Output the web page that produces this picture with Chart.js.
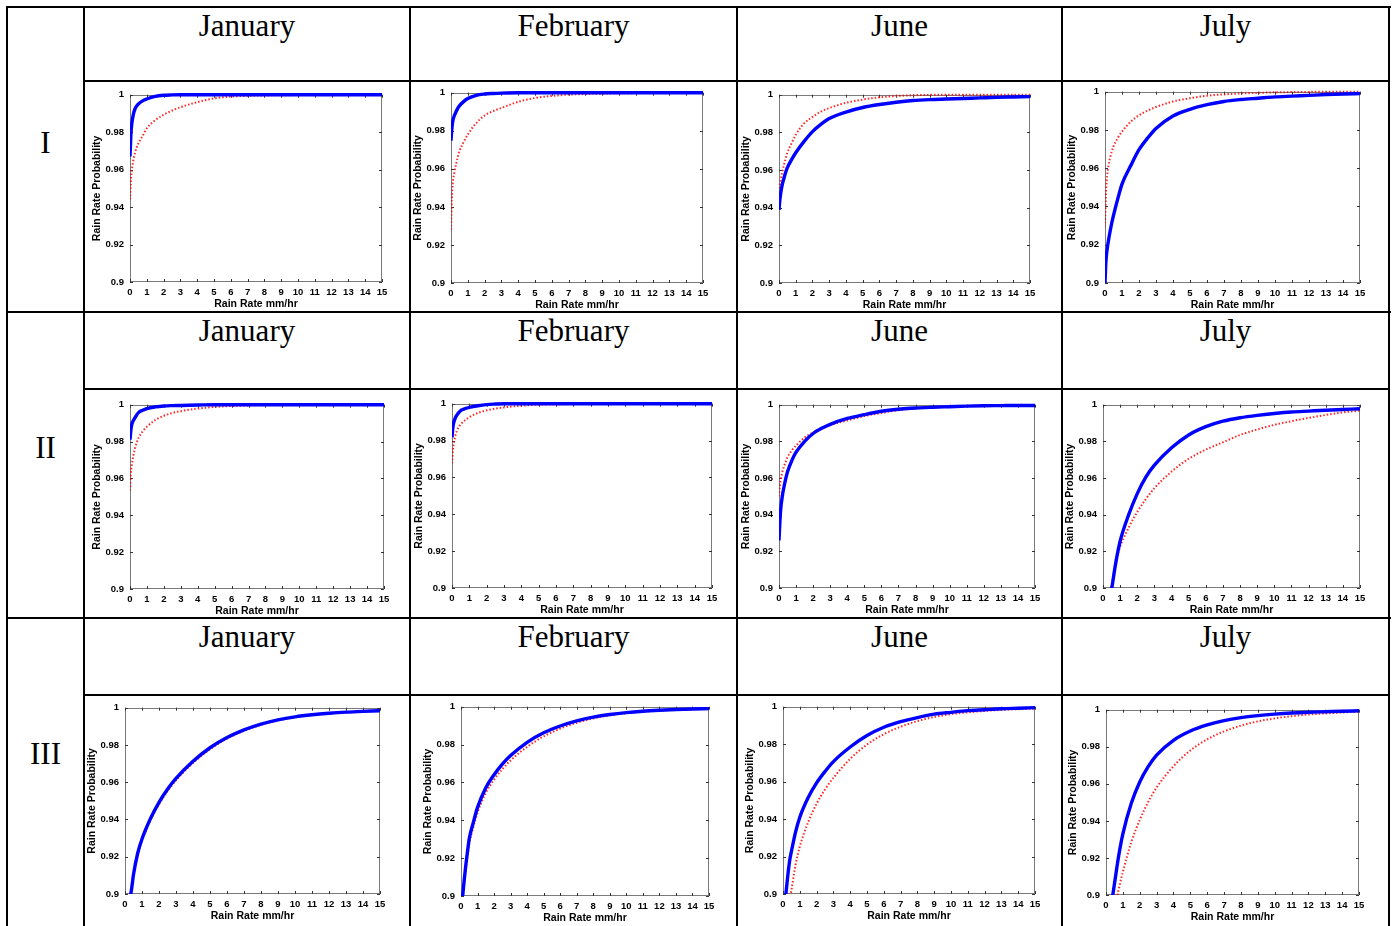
<!DOCTYPE html>
<html><head><meta charset="utf-8">
<script src="https://cdn.jsdelivr.net/npm/chart.js@4.4.1/dist/chart.umd.min.js"></script>
<style>
html,body{margin:0;padding:0;background:#fff;width:1398px;height:926px;overflow:hidden;}
.ln{position:absolute;background:#000;z-index:5;}
.hd{position:absolute;font-family:"Liberation Serif","Times New Roman",serif;font-size:31px;color:#000;text-align:center;line-height:31px;white-space:nowrap;}
.cv{position:absolute;z-index:2;}
</style></head><body>
<script>
// ---- data ----
const rainRate = [0,0.05,0.1,0.2,0.3,0.4,0.5,0.75,1,1.5,2,2.5,3,4,5,6,7,8,9,10,11,12,13,14,15];
const xTicks = [0,1,2,3,4,5,6,7,8,9,10,11,12,13,14,15];
const yTicks = [0.9,0.92,0.94,0.96,0.98,1];
const months = ['January','February','June','July'];
const regions = ['I','II','III'];

const I_Jan_blue = [0.967,0.978,0.984,0.9895,0.9925,0.994,0.995,0.9967,0.9977,0.9991,0.9997,0.9999,1,1,1,1,1,1,1,1,1,1,1,1,1];
const I_Jan_red = [0.944,0.953,0.959,0.965,0.969,0.972,0.974,0.978,0.982,0.9864,0.9893,0.9915,0.9933,0.996,0.998,0.999,0.9994,0.9996,0.9997,0.9998,0.9999,1,1,1,1];
const I_Feb_blue = [0.9748,0.981,0.9848,0.988,0.990,0.9918,0.9931,0.9953,0.9969,0.9986,0.9993,0.9996,0.9998,1,1,1,1,1,1,1,1,1,1,1,1];
const I_Feb_red = [0.928,0.944,0.952,0.958,0.9625,0.966,0.9693,0.974,0.978,0.984,0.988,0.9903,0.992,0.9952,0.9972,0.9983,0.999,0.9993,0.9995,0.9997,0.9998,0.9999,1,1,1];
const I_Jun_blue = [0.9388,0.944,0.9475,0.9525,0.9558,0.9588,0.9613,0.9655,0.9692,0.9752,0.9804,0.9842,0.9873,0.9908,0.9932,0.9948,0.996,0.9969,0.9974,0.9977,0.998,0.9983,0.9986,0.9988,0.999];
const I_Jun_red = [0.9483,0.9515,0.9544,0.959,0.9628,0.9662,0.9692,0.9742,0.9787,0.9847,0.9882,0.991,0.9929,0.9957,0.9974,0.9986,0.9993,0.9997,0.9999,1,1,1,1,1,1];
const I_Jul_blue = [0.9,0.9106,0.9158,0.922,0.927,0.9315,0.9354,0.944,0.9517,0.9611,0.9697,0.9757,0.9808,0.9873,0.9908,0.9932,0.9949,0.9959,0.9966,0.9973,0.9977,0.9981,0.9985,0.9988,0.999];
const I_Jul_red = [0.9295,0.9449,0.9534,0.961,0.9655,0.9688,0.9714,0.9758,0.9791,0.9842,0.9877,0.9901,0.992,0.9949,0.9966,0.9979,0.9986,0.9991,0.9994,0.9997,0.9998,0.9999,1,1,1];
const II_Jan_blue = [0.981,0.986,0.989,0.9915,0.993,0.9945,0.9957,0.997,0.9979,0.9988,0.9993,0.9995,0.9996,0.9998,1,1,1,1,1,1,1,1,1,1,1];
const II_Jan_red = [0.9535,0.9624,0.9668,0.9725,0.9765,0.9795,0.9819,0.9855,0.9881,0.9917,0.994,0.9955,0.9965,0.9979,0.9988,0.9993,0.9996,0.9998,0.9999,1,1,1,1,1,1];
const II_Feb_blue = [0.9817,0.987,0.9897,0.9925,0.9941,0.9953,0.9963,0.9973,0.998,0.9989,0.9995,0.9998,1,1,1,1,1,1,1,1,1,1,1,1,1];
const II_Feb_red = [0.9675,0.9746,0.9782,0.983,0.9857,0.9875,0.9888,0.991,0.9927,0.995,0.9964,0.9973,0.998,0.9989,0.9995,0.9997,0.9998,0.9999,1,1,1,1,1,1,1];
const II_Jun_blue = [0.9259,0.9357,0.9429,0.9505,0.9555,0.9598,0.9634,0.9695,0.9741,0.98,0.9843,0.9871,0.9893,0.9925,0.9946,0.9964,0.9975,0.9982,0.9986,0.9989,0.9992,0.9994,0.9995,0.9996,0.9996];
const II_Jun_red = [0.95,0.9555,0.9589,0.9635,0.9665,0.969,0.9714,0.975,0.9777,0.9821,0.9848,0.987,0.9889,0.9914,0.9938,0.9955,0.997,0.9979,0.9985,0.9989,0.9993,0.9996,0.9997,0.9998,0.9998];
const II_Jul_blue = [null,null,null,null,null,null,0.899,0.914,0.9255,0.94,0.9515,0.9605,0.967,0.9765,0.9835,0.988,0.991,0.9929,0.9942,0.9952,0.996,0.9965,0.997,0.9974,0.9978];
const II_Jul_red = [null,null,null,null,null,0.8985,0.9015,0.9145,0.9225,0.933,0.9415,0.9485,0.9545,0.9635,0.9705,0.9755,0.9795,0.9835,0.9865,0.989,0.991,0.9928,0.9944,0.9958,0.9968];
const III_Jan_blue = [null,null,null,null,0.8975,0.9035,0.9105,0.922,0.9295,0.9405,0.9492,0.9562,0.962,0.9712,0.9785,0.984,0.9881,0.9912,0.9935,0.9951,0.9962,0.997,0.9976,0.998,0.9984];
const III_Jan_red = [null,null,null,null,0.8985,0.9045,0.9108,0.9212,0.9287,0.9396,0.9482,0.9552,0.961,0.9703,0.9777,0.9834,0.9876,0.9908,0.9932,0.9949,0.996,0.9969,0.9975,0.998,0.9984];
const III_Feb_blue = [null,0.895,0.9,0.909,0.917,0.924,0.9303,0.939,0.9468,0.9572,0.9641,0.9697,0.9742,0.9812,0.9862,0.9898,0.9925,0.9945,0.9959,0.9969,0.9976,0.9981,0.9985,0.9988,0.999];
const III_Feb_red = [null,0.894,0.899,0.907,0.915,0.9215,0.9275,0.9365,0.944,0.9545,0.9615,0.967,0.9716,0.9788,0.9843,0.9884,0.9915,0.9938,0.9955,0.9966,0.9974,0.998,0.9984,0.9987,0.9989];
const III_Jun_blue = [null,null,0.894,0.9025,0.911,0.918,0.9227,0.9332,0.941,0.9515,0.9593,0.9654,0.9707,0.9785,0.9846,0.989,0.992,0.9942,0.996,0.997,0.9979,0.9984,0.9989,0.9992,0.9995];
const III_Jun_red = [null,null,null,null,null,0.897,0.902,0.9157,0.9253,0.9384,0.9482,0.9558,0.962,0.9722,0.9798,0.9853,0.9893,0.9923,0.9945,0.996,0.997,0.9977,0.9983,0.9987,0.999];
const III_Jul_blue = [null,null,null,null,0.896,0.9,0.906,0.921,0.933,0.9495,0.961,0.9693,0.9755,0.9835,0.9885,0.9918,0.9941,0.9957,0.9968,0.9976,0.9982,0.9986,0.9989,0.9992,0.9994];
const III_Jul_red = [null,null,null,null,null,null,0.8925,0.903,0.9125,0.9285,0.9405,0.9502,0.958,0.9695,0.978,0.984,0.9883,0.9914,0.9937,0.9953,0.9965,0.9974,0.998,0.9985,0.9989];

const xTitle = 'Rain Rate mm/hr';
const yTitle = 'Rain Rate Probability';

// ---- layout ----
const panels = [
  {blue:I_Jan_blue, red:I_Jan_red, rect:[130,91,382,282]},
  {blue:I_Feb_blue, red:I_Feb_red, rect:[451,89,703,283]},
  {blue:I_Jun_blue, red:I_Jun_red, rect:[779,91,1030,283]},
  {blue:I_Jul_blue, red:I_Jul_red, rect:[1105,88,1360,283]},
  {blue:II_Jan_blue, red:II_Jan_red, rect:[130,401,384,589]},
  {blue:II_Feb_blue, red:II_Feb_red, rect:[452,400,712,588]},
  {blue:II_Jun_blue, red:II_Jun_red, rect:[779,401,1035,588]},
  {blue:II_Jul_blue, red:II_Jul_red, rect:[1103,401,1360,588]},
  {blue:III_Jan_blue, red:III_Jan_red, rect:[125,704,380,894]},
  {blue:III_Feb_blue, red:III_Feb_red, rect:[461,703,709,896]},
  {blue:III_Jun_blue, red:III_Jun_red, rect:[783,703,1035,894]},
  {blue:III_Jul_blue, red:III_Jul_red, rect:[1106,706,1359,895]}
];
const colX = [7,84,410,737,1062,1389];
const rowTops = [7,312,618];
const subLines = [81,389,695];

function line(x,y,w,h){const d=document.createElement('div');d.className='ln';d.style.left=x+'px';d.style.top=y+'px';d.style.width=w+'px';d.style.height=h+'px';document.body.appendChild(d);}
colX.forEach(x=>line(x-1,6,2,930));
rowTops.forEach(y=>line(6,y-1,1385,2));
subLines.forEach(y=>line(84,y-1,1306,2));

function text(t,cx,top,w){const d=document.createElement('div');d.className='hd';d.textContent=t;d.style.left=(cx-w/2)+'px';d.style.width=w+'px';d.style.top=top+'px';document.body.appendChild(d);}
rowTops.forEach((rt,ri)=>{
  months.forEach((m,mi)=>text(m,(colX[mi+1]+colX[mi+2])/2,rt+3,300));
  text(regions[ri],45.5,rt+120,70);
});

const FONT = '"Liberation Sans", Arial, sans-serif';
const boxPlugin = {
  id:'matlabBox',
  beforeDatasetsDraw(chart){
    const {ctx, chartArea:a, scales:{x,y}} = chart;
    ctx.save();
    ctx.strokeStyle='#7a7a7a'; ctx.lineWidth=1;
    ctx.strokeRect(Math.round(a.left)+0.5, Math.round(a.top)+0.5, Math.round(a.right-a.left)-1, Math.round(a.bottom-a.top)-1);
    ctx.strokeStyle='#333'; ctx.beginPath();
    const tl=3;
    xTicks.forEach(v=>{const px=Math.round(x.getPixelForValue(v))+0.5;
      ctx.moveTo(px,a.bottom); ctx.lineTo(px,a.bottom-tl);
      ctx.moveTo(px,a.top); ctx.lineTo(px,a.top+tl);});
    yTicks.forEach(v=>{const py=Math.round(y.getPixelForValue(v))+0.5;
      ctx.moveTo(a.left,py); ctx.lineTo(a.left+tl,py);
      ctx.moveTo(a.right,py); ctx.lineTo(a.right-tl,py);});
    ctx.stroke(); ctx.restore();
  }
};

const YW=44, XH=28, PT=8, PR=12;
panels.forEach(p=>{
  const [L,T,R,B]=p.rect;
  const c=document.createElement('canvas'); c.className='cv';
  const w=(R-L)+YW+PR, h=(B-T)+PT+XH;
  c.width=w; c.height=h; c.style.width=w+'px'; c.style.height=h+'px';
  c.style.left=(L-YW)+'px'; c.style.top=(T-PT)+'px';
  document.body.appendChild(c);
  const pts = arr => rainRate.map((x,i)=>({x:x, y:arr[i]}));
  new Chart(c.getContext('2d'),{
    type:'line',
    data:{datasets:[
      {label:'blue', data:pts(p.blue), borderColor:'#0000ff', borderWidth:3.4, pointRadius:0, cubicInterpolationMode:'monotone', fill:false, order:0, clip:{left:0,right:2,top:2,bottom:0}},
      {label:'red', data:pts(p.red), borderColor:'rgba(255,0,0,0.85)', borderWidth:2, borderDash:[1.5,2], pointRadius:0, cubicInterpolationMode:'monotone', fill:false, order:1, clip:{left:0,right:2,top:2,bottom:0}}
    ]},
    options:{
      responsive:false, animation:false, devicePixelRatio:1,
      layout:{padding:{top:PT,right:PR,left:0,bottom:0}},
      plugins:{legend:{display:false}, tooltip:{enabled:false}},
      scales:{
        x:{type:'linear', min:0, max:15,
          afterBuildTicks:s=>{s.ticks=xTicks.map(v=>({value:v}));},
          afterFit:s=>{s.height=XH;},
          grid:{display:false, drawTicks:false}, border:{display:false},
          ticks:{autoSkip:false, maxRotation:0, padding:5, color:'#000', font:{family:FONT, size:9.5, weight:'bold'}, callback:v=>String(v)},
          title:{display:true, text:xTitle, color:'#000', padding:{top:0,bottom:0}, font:{family:FONT, size:10.5, weight:'bold'}}
        },
        y:{type:'linear', min:0.9, max:1,
          afterBuildTicks:s=>{s.ticks=yTicks.map(v=>({value:v}));},
          afterFit:s=>{s.width=YW;},
          grid:{display:false, drawTicks:false}, border:{display:false},
          ticks:{padding:6, color:'#000', font:{family:FONT, size:9.5, weight:'bold'}, callback:v=>String(+(+v).toFixed(2))},
          title:{display:true, text:yTitle, color:'#000', padding:{top:5,bottom:0}, font:{family:FONT, size:10.5, weight:'bold'}}
        }
      }
    },
    plugins:[boxPlugin]
  });
});
</script>
</body></html>
